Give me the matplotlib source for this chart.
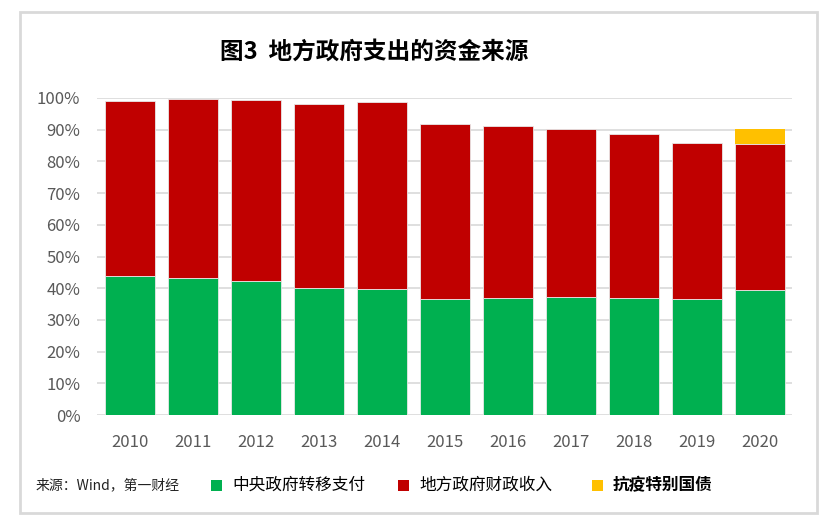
import numpy as np
import matplotlib
matplotlib.use('Agg')
from matplotlib import pyplot as plt
from matplotlib.patches import Rectangle
from matplotlib.ticker import PercentFormatter

plt.rcParams['font.family'] = ['Noto Sans CJK SC', 'DejaVu Sans']

# data to plot
years = ['2010', '2011', '2012', '2013', '2014', '2015', '2016', '2017', '2018', '2019', '2020']
central_transfer = [0.438, 0.432, 0.423, 0.401, 0.397, 0.365, 0.368, 0.371, 0.368, 0.365, 0.393]
local_revenue = [0.552, 0.565, 0.571, 0.580, 0.590, 0.554, 0.545, 0.530, 0.519, 0.494, 0.461]
special_bonds = [0, 0, 0, 0, 0, 0, 0, 0, 0, 0, 0.047]

green = '#00B050'
red = '#C00000'
yellow = '#FFC000'

W, H = 833, 520
fig = plt.figure(figsize=(W / 100, H / 100), dpi=100)
# light grey frame round the whole chart
fig.patches.append(Rectangle((20 / W, 1 - 513 / H), 797 / W, 501 / H,
                             transform=fig.transFigure, fill=False,
                             edgecolor='#D9D9D9', linewidth=2))

ax = fig.add_axes([97 / W, 1 - 415 / H, 695 / W, 317 / H])
index = np.arange(len(years))
bar_width = 0.79
bottom2 = np.array(central_transfer)
bottom3 = bottom2 + np.array(local_revenue)

ax.bar(index, central_transfer, bar_width, color=green, edgecolor='#E8E8E8', linewidth=0.6, zorder=3)
ax.bar(index, local_revenue, bar_width, bottom=bottom2, color=red, edgecolor='#E8E8E8', linewidth=0.6, zorder=3)
ax.bar(index[-1:], special_bonds[-1:], bar_width, bottom=bottom3[-1:], color=yellow, linewidth=0, zorder=3)

ax.set_xlim(-0.52, 10.51)
ax.set_ylim(0, 1.0)
ax.set_yticks(np.arange(0, 1.01, 0.1))
ax.yaxis.set_major_formatter(PercentFormatter(1.0, decimals=0))
ax.set_xticks(index)
ax.set_xticklabels(years)
ax.grid(axis='y', color='#D9D9D9', linewidth=1.2, zorder=0)
for s in ax.spines.values():
    s.set_visible(False)
ax.tick_params(length=0, labelsize=12, colors='#595959')
ax.tick_params(axis='x', pad=14)
ax.tick_params(axis='y', pad=12)

fig.text(374 / W, 1 - 52 / H, '图3  地方政府支出的资金来源', ha='center', va='center',
         fontsize=17, fontweight='bold', color='black')

# bottom legend row
fig.text(36 / W, 1 - 485 / H, '来源：Wind，第一财经', ha='left', va='center', fontsize=10, color='#222222')
legend_items = [(216, green, '中央政府转移支付', 'normal'),
                (403, red, '地方政府财政收入', 'normal'),
                (597, yellow, '抗疫特别国债', 'bold')]
for x, c, label, weight in legend_items:
    fig.patches.append(Rectangle(((x - 5.5) / W, 1 - 490.5 / H), 11 / W, 11 / H,
                                 transform=fig.transFigure, facecolor=c, edgecolor='none'))
    fig.text((x + 16) / W, 1 - 485 / H, label, ha='left', va='center', fontsize=12,
             fontweight=weight, color='black')

fig.savefig('out.png', dpi=100)
